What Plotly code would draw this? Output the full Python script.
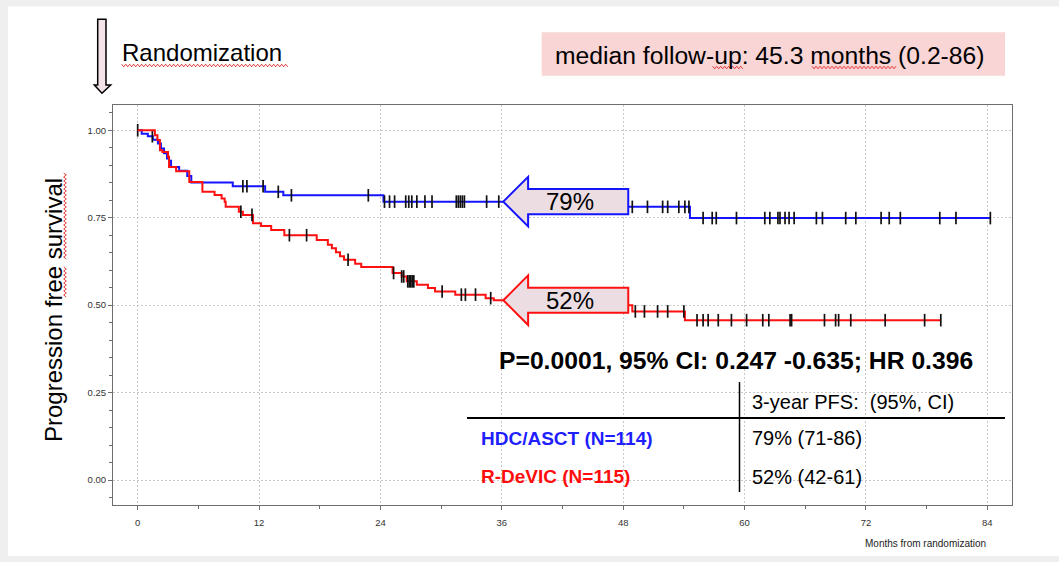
import numpy as np
import plotly.graph_objects as go

# ---------------- data ----------------
blue_name = "HDC/ASCT (N=114)"
red_name = "R-DeVIC (N=115)"

# Kaplan-Meier step points: time (months) and survival after the step
blue_t = [0, 0.4, 1.0, 1.5, 2.0, 2.3, 2.6, 2.9, 3.1, 3.3, 4.1, 4.9, 5.3, 9.4, 12.6, 14.4,
          24.3, 42.0, 54.6, 84.3]
blue_s = [1.0, 0.990, 0.983, 0.973, 0.962, 0.948, 0.934, 0.919, 0.913, 0.895, 0.884, 0.869,
          0.851, 0.840, 0.824, 0.814, 0.796, 0.781, 0.749, 0.749]

red_t = [0, 1.7, 1.95, 2.2, 2.45, 3.0, 3.1, 3.8, 5.1, 6.4, 7.6, 8.3, 8.6, 8.7, 10.0, 10.4,
         11.4, 12.2, 13.2, 14.5, 17.7, 18.8, 19.2, 19.6, 20.0, 20.4, 21.5, 22.1, 25.2, 26.1,
         26.6, 27.6, 28.7, 29.4, 31.4, 34.4, 35.2, 42.5, 48.9, 54.1, 79.4]
red_s = [1.0, 0.986, 0.972, 0.943, 0.938, 0.924, 0.895, 0.883, 0.852, 0.824, 0.815, 0.805,
         0.796, 0.781, 0.767, 0.758, 0.734, 0.726, 0.715, 0.700, 0.686, 0.673, 0.663, 0.651,
         0.640, 0.630, 0.618, 0.609, 0.592, 0.582, 0.568, 0.558, 0.549, 0.539, 0.530, 0.520,
         0.514, 0.500, 0.482, 0.457, 0.457]

# censoring times (months)
blue_cens = [0, 1.45, 10.4, 10.8, 12.4, 13.9, 15.2, 22.8, 24.4, 24.9, 25.4, 26.5, 26.8, 27.1,
             27.6, 28.4, 29.1, 31.5, 31.7, 31.9, 32.1, 32.3, 34.5, 35.7, 48.9, 50.4, 51.9,
             52.4, 53.5, 54.1, 54.5, 55.9, 56.8, 57.2, 59.2, 62.0, 62.5, 63.3, 63.5, 64.0,
             64.4, 64.9, 67.1, 67.7, 70.0, 71.0, 73.5, 74.3, 75.4, 79.3, 80.9, 84.3]
red_cens = [10.2, 11.3, 15.0, 16.7, 20.8, 25.3, 26.1, 26.3, 26.7, 26.85, 27.0, 27.15, 27.3,
            30.1, 32.0, 32.4, 33.4, 34.9, 49.2, 50.1, 51.4, 52.4, 54.0, 55.3, 55.9, 56.4,
            57.4, 58.7, 60.2, 61.8, 62.4, 64.5, 64.65, 67.9, 69.0, 69.3, 70.5, 73.9, 77.8,
            79.4]

x_ticks = [0, 12, 24, 36, 48, 60, 72, 84]
y_ticks = [0.0, 0.25, 0.50, 0.75, 1.00]

pfs_label_blue = "79%"
pfs_label_red = "52%"
arrow_month = 36
table_header = "3-year PFS:&nbsp;&nbsp;(95%, CI)"
table_blue = "79% (71-86)"
table_red = "52% (42-61)"
stats_text = "P=0.0001, 95% CI: 0.247 -0.635; HR 0.396"
followup_text = "median follow-up: 45.3 months (0.2-86)"

# ---------------- layout helpers ----------------
W, H = 1059, 562
L, R, T, B = 113, 1012, 105, 505
X_RANGE = [-2.44, 86.44]
Y_RANGE = [-0.0715, 1.0723]
FONT = "Liberation Sans, Arial, sans-serif"


def px(x):
    return (x - L) / (R - L)


def py(y):
    return (B - y) / (B - T)


def km_at(ts, ss, t):
    idx = np.searchsorted(np.asarray(ts), np.asarray(t), side="right") - 1
    return np.asarray(ss)[idx]


BLUE = "#1414ff"
RED = "#ff1010"

fig = go.Figure()
for ts, ss, cens, col, name in [(blue_t, blue_s, blue_cens, BLUE, blue_name),
                                (red_t, red_s, red_cens, RED, red_name)]:
    fig.add_trace(go.Scatter(x=ts, y=ss, mode="lines", line=dict(color=col, width=2, shape="hv"),
                             name=name, showlegend=False, hoverinfo="skip"))
    fig.add_trace(go.Scatter(x=cens, y=km_at(ts, ss, cens), mode="markers",
                             marker=dict(symbol="line-ns", size=9,
                                         line=dict(color="#111111", width=1.7)),
                             showlegend=False, hoverinfo="skip"))

shapes = []
annotations = []

# slide background frame
shapes.append(dict(type="rect", xref="paper", yref="paper", x0=px(8), x1=px(1070),
                   y0=py(556), y1=py(6.5), fillcolor="white", line=dict(width=0), layer="below"))

# white panel behind table (hides gridlines)
shapes.append(dict(type="rect", xref="paper", yref="paper", x0=px(467), x1=px(1006),
                   y0=py(492), y1=py(337), fillcolor="white", line=dict(width=0), layer="between"))

# table lines
shapes.append(dict(type="line", xref="paper", yref="paper", x0=px(467), x1=px(1005),
                   y0=py(418), y1=py(418), line=dict(color="black", width=2)))
shapes.append(dict(type="line", xref="paper", yref="paper", x0=px(739.5), x1=px(739.5),
                   y0=py(382), y1=py(492), line=dict(color="black", width=1.5)))

# block arrows pointing at 36 months
ARROW_FILL = "#ebdde2"
for ts, ss, col, lab in [(blue_t, blue_s, BLUE, pfs_label_blue),
                         (red_t, red_s, RED, pfs_label_red)]:
    s0 = float(km_at(ts, ss, [arrow_month])[0])
    tip = arrow_month + 0.15
    hx = tip + 2.45
    rx = 48.5
    hh, bh = 0.071, 0.036
    path = (f"M {tip},{s0} L {hx},{s0 + hh} L {hx},{s0 + bh} L {rx},{s0 + bh} "
            f"L {rx},{s0 - bh} L {hx},{s0 - bh} L {hx},{s0 - hh} Z")
    shapes.append(dict(type="path", xref="x", yref="y", path=path, fillcolor=ARROW_FILL,
                       line=dict(color=col, width=2), layer="above"))
    annotations.append(dict(x=42.7, y=s0, xref="x", yref="y", text=lab, showarrow=False,
                            font=dict(family=FONT, size=24, color="black"),
                            xanchor="center", yanchor="middle"))

# follow-up box
shapes.append(dict(type="rect", xref="paper", yref="paper", x0=px(541.7), x1=px(1005),
                   y0=py(75.7), y1=py(32.3), fillcolor="#f9d5d5", line=dict(width=0)))
annotations.append(dict(x=px(553), y=py(55), xref="paper", yref="paper", text=followup_text,
                        showarrow=False, xanchor="left", yanchor="middle",
                        font=dict(family=FONT, size=24.7, color="black")))

# randomization arrow
ax0, ax1, hx0, hx1, cx = 97.7, 106, 94.3, 110.7, 102
ay0, ay1, ay2 = 19.3, 85, 93.3
arrow_path = (f"M {px(ax0)},{py(ay0)} L {px(ax1)},{py(ay0)} L {px(ax1)},{py(ay1)} "
              f"L {px(hx1)},{py(ay1)} L {px(cx)},{py(ay2)} L {px(hx0)},{py(ay1)} "
              f"L {px(ax0)},{py(ay1)} Z")
shapes.append(dict(type="path", xref="paper", yref="paper", path=arrow_path,
                   fillcolor="#f3e3e8", line=dict(color="black", width=1.5)))
annotations.append(dict(x=px(120), y=py(52.5), xref="paper", yref="paper", text="Randomization",
                        showarrow=False, xanchor="left", yanchor="middle",
                        font=dict(family=FONT, size=24, color="black")))


# spell-check wavy underlines
def wavy_h(x0, x1, y, amp=1.3, step=2.0):
    xs = np.arange(x0, x1 + 0.01, step)
    pts = [f"{px(x)},{py(y + (amp if i % 2 else -amp))}" for i, x in enumerate(xs)]
    return "M " + " L ".join(pts)


def wavy_v(x, y0, y1, amp=1.3, step=2.0):
    ys = np.arange(y0, y1 + 0.01, step)
    pts = [f"{px(x + (amp if i % 2 else -amp))},{py(yv)}" for i, yv in enumerate(ys)]
    return "M " + " L ".join(pts)


for p in [wavy_h(121.7, 288, 65.5), wavy_h(712.7, 743.3, 67.5), wavy_h(812, 896, 67.5),
          wavy_v(65, 173, 260), wavy_v(65, 267, 298)]:
    shapes.append(dict(type="path", xref="paper", yref="paper", path=p,
                       line=dict(color="#e23a3a", width=1)))

# y-axis title
annotations.append(dict(x=px(53), y=py(310), xref="paper", yref="paper",
                        text="Progression free survival", textangle=-90, showarrow=False,
                        xanchor="center", yanchor="middle",
                        font=dict(family=FONT, size=24, color="black")))
# x-axis title
annotations.append(dict(x=px(988), y=py(543), xref="paper", yref="paper",
                        text="Months from randomization", showarrow=False,
                        xanchor="right", yanchor="middle",
                        font=dict(family="Liberation Sans Narrow, " + FONT, size=10,
                                  color="#222")))
# statistics
annotations.append(dict(x=px(735.5), y=py(360), xref="paper", yref="paper",
                        text=f"<b>{stats_text}</b>", showarrow=False,
                        xanchor="center", yanchor="middle",
                        font=dict(family=FONT, size=24.7, color="black")))
# table text
annotations.append(dict(x=px(750), y=py(401.5), xref="paper", yref="paper", text=table_header,
                        showarrow=False, xanchor="left", yanchor="middle",
                        font=dict(family=FONT, size=20, color="black")))
annotations.append(dict(x=px(479), y=py(438), xref="paper", yref="paper",
                        text=f"<b>{blue_name}</b>", showarrow=False, xanchor="left",
                        yanchor="middle", font=dict(family=FONT, size=19, color="#1e1eff")))
annotations.append(dict(x=px(750), y=py(438), xref="paper", yref="paper", text=table_blue,
                        showarrow=False, xanchor="left", yanchor="middle",
                        font=dict(family=FONT, size=20, color="black")))
annotations.append(dict(x=px(479), y=py(476.5), xref="paper", yref="paper",
                        text=f"<b>{red_name}</b>", showarrow=False, xanchor="left",
                        yanchor="middle", font=dict(family=FONT, size=19, color="#ff0d0d")))
annotations.append(dict(x=px(750), y=py(476.5), xref="paper", yref="paper", text=table_red,
                        showarrow=False, xanchor="left", yanchor="middle",
                        font=dict(family=FONT, size=20, color="black")))

axis_common = dict(showline=True, mirror=True, linecolor="#6e6e6e", linewidth=1,
                   showgrid=True, gridcolor="#c8c8c8", griddash="2px,2px", gridwidth=1,
                   zeroline=False, ticks="outside", ticklen=4, tickcolor="#6e6e6e",
                   tickfont=dict(family=FONT, size=9.5, color="#333333"))

fig.update_layout(
    width=W, height=H,
    margin=dict(l=L, r=W - R, t=T, b=H - B, pad=0),
    paper_bgcolor="#efefef", plot_bgcolor="white",
    showlegend=False,
    xaxis=dict(range=X_RANGE, tickvals=x_ticks, ticktext=[str(v) for v in x_ticks],
               ticklabelstandoff=5,
               minor=dict(dtick=6, tick0=0, ticklen=3, ticks="outside", tickcolor="#6e6e6e",
                          showgrid=False),
               **axis_common),
    yaxis=dict(range=Y_RANGE, tickvals=y_ticks, ticktext=[f"{v:.2f}" for v in y_ticks],
               minor=dict(dtick=0.05, tick0=0, ticklen=3, ticks="outside",
                          tickcolor="#6e6e6e", showgrid=False),
               **axis_common),
    shapes=shapes,
    annotations=annotations,
)

fig.write_html("out.html")
